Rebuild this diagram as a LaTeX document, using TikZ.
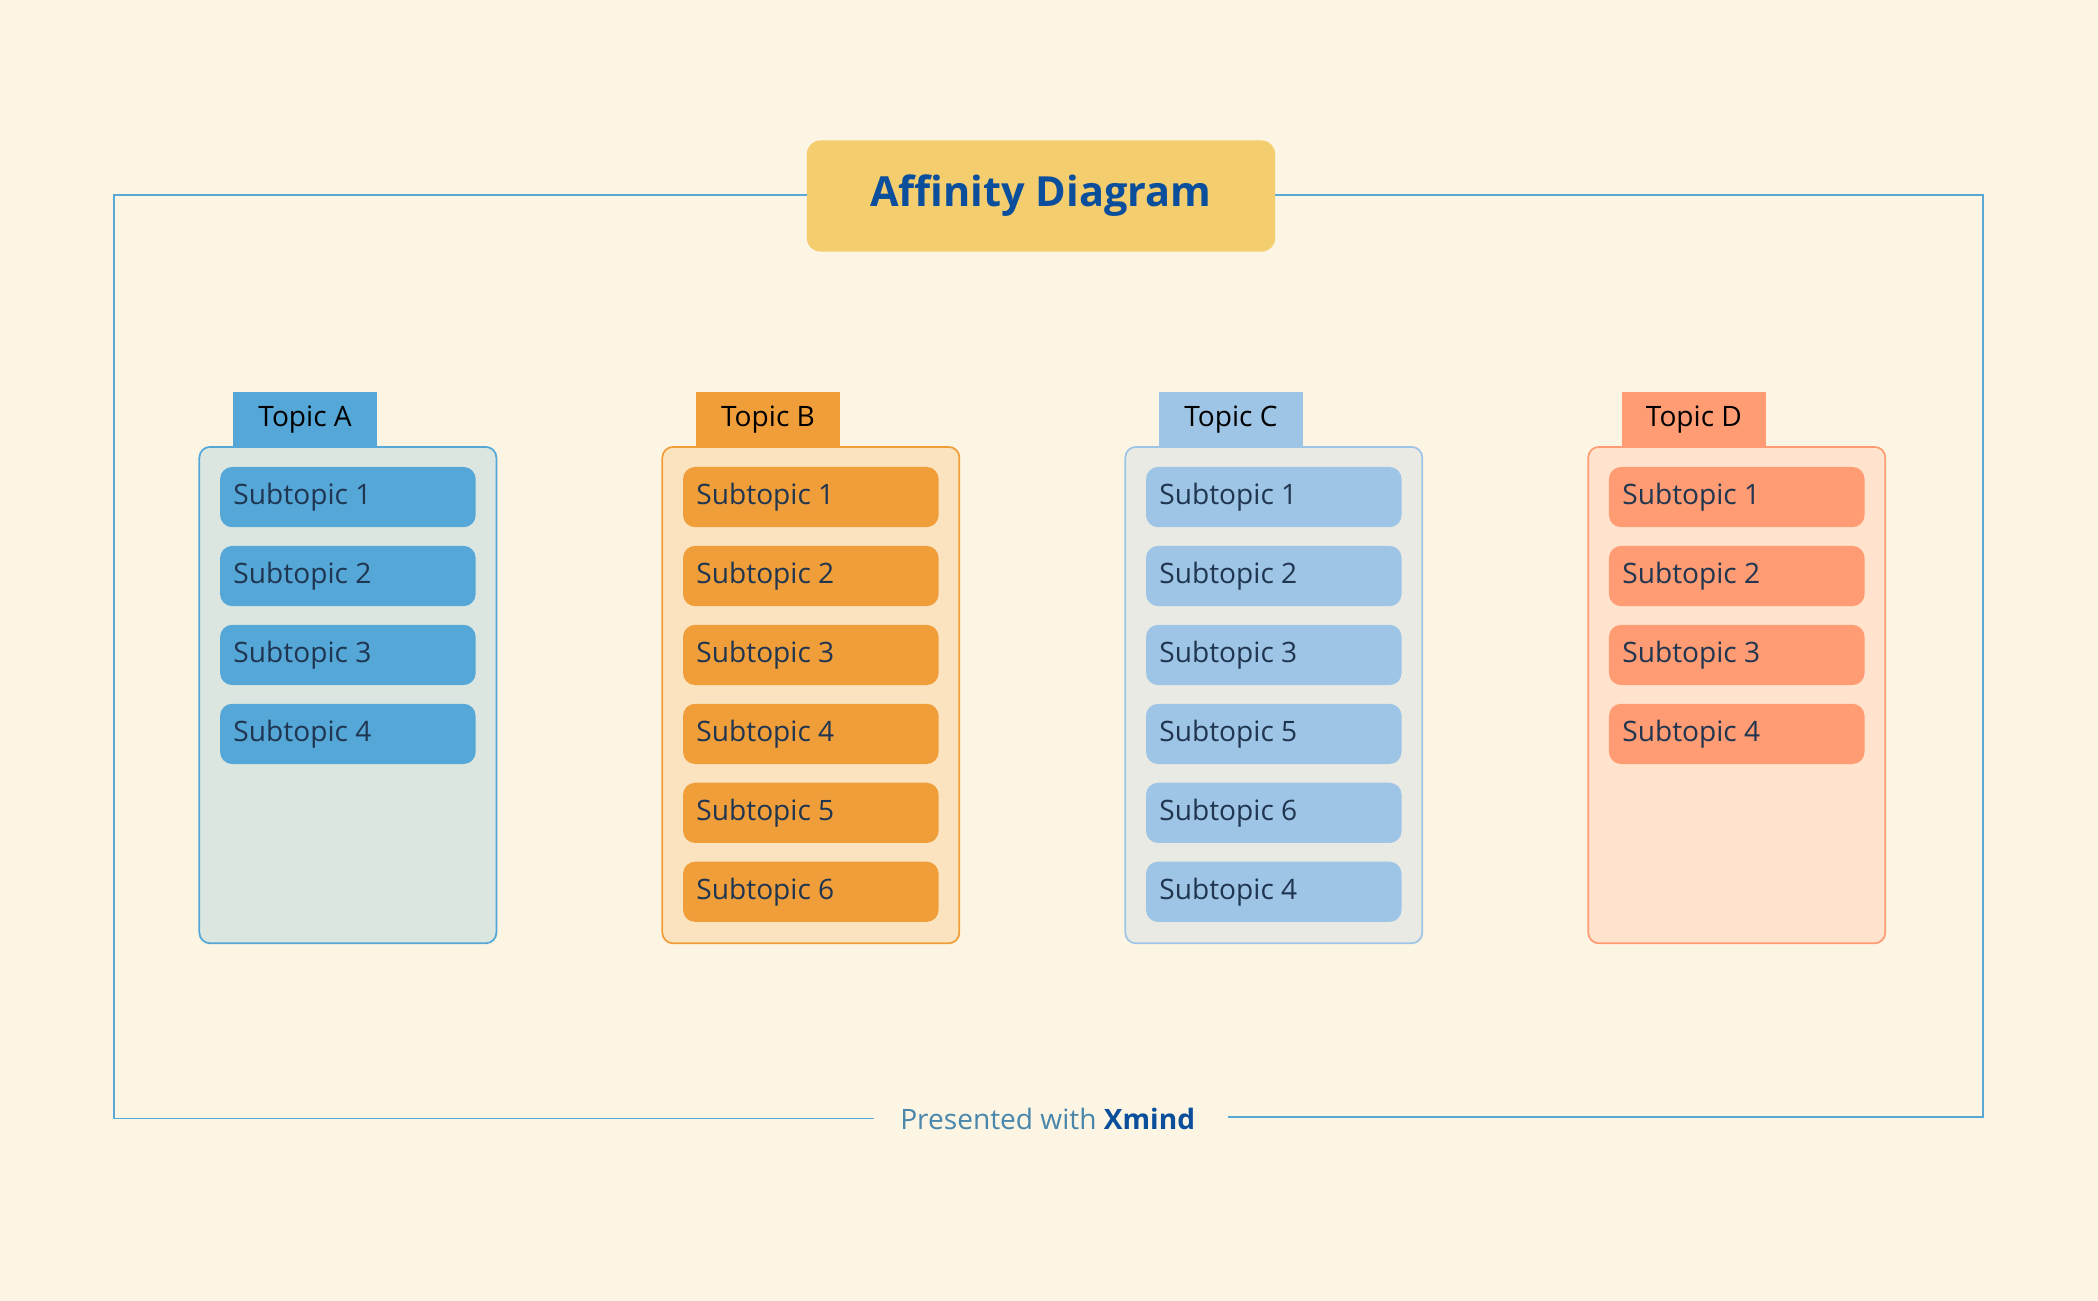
\documentclass[tikz,border=0pt]{standalone}
\usepackage{fontspec}
\setmainfont{Open Sans}
\definecolor{bg}{HTML}{FDF5E3}
\definecolor{frame}{HTML}{5AA8D6}
\definecolor{titlebg}{HTML}{F4CD6E}
\definecolor{titlefg}{HTML}{0B4F9C}
\definecolor{txt}{HTML}{1F3550}
\definecolor{cA}{HTML}{55A7D8}\definecolor{kA}{HTML}{DCE6E0}
\definecolor{cB}{HTML}{F09E3A}\definecolor{kB}{HTML}{FCE3C0}
\definecolor{cC}{HTML}{9EC5E6}\definecolor{kC}{HTML}{E8EAE3}
\definecolor{cD}{HTML}{FF9C73}\definecolor{kD}{HTML}{FFE3CC}
\tikzset{
 container/.style={draw=#1,line width=1.3pt,rounded corners=8pt,minimum width=222pt,minimum height=371pt,inner sep=0pt},
 tabbox/.style={fill=#1,minimum width=108pt,minimum height=41pt,inner sep=0pt,font=\fontsize{21}{24}\selectfont,text=black},
 subbox/.style={fill=#1,rounded corners=9pt,minimum width=191pt,minimum height=45pt,inner sep=0pt},
 sublabel/.style={font=\fontsize{21}{24}\selectfont,text=txt,anchor=west,inner sep=0pt},
}
\begin{document}
\begin{tikzpicture}[x=1pt,y=-1pt]
\fill[bg] (0,0) rectangle (1568,972);
\useasboundingbox (0,0) rectangle (1568,972);
\node[fill=titlebg,rounded corners=10pt,minimum width=350pt,minimum height=83pt,inner sep=0pt,font=\fontsize{31}{36}\selectfont\bfseries,text=titlefg] (title) at (778,146.5) {Affinity Diagram};
\node[font=\fontsize{21}{24}\selectfont,text=frame!80!black] (foot) at (783,836) {Presented with \textcolor{titlefg}{\bfseries Xmind}};
\coordinate (f1) at (85,146); \coordinate (f2) at (1482,146);
\coordinate (f3) at (1482,835); \coordinate (f4) at (85,836);
\coordinate (g1) at (653,836); \coordinate (g2) at (918,835);
\draw[frame,line width=1.3pt] (title.west|-f1) -- (f1) -- (f4) -- (g1);
\draw[frame,line width=1.3pt] (title.east|-f2) -- (f2) -- (f3) -- (g2);
\foreach \L/\x/\items in {A/260/{1,2,3,4},B/606/{1,2,3,4,5,6},C/952/{1,2,3,5,6,4},D/1298/{1,2,3,4}}{
  \node[container=c\L,fill=k\L] (box\L) at (\x,519.5) {};
  \node[tabbox=c\L] (tab\L) at (\x-32,313.5) {Topic \L};
  \foreach \n [count=\i] in \items {
    \node[subbox=c\L] (s\L\i) at (\x,371.5+59*\i-59) {};
    \node[sublabel] (t\L\i) at ([xshift=10pt]s\L\i.west) {Subtopic \n};
  }
}
\end{tikzpicture}
\end{document}
